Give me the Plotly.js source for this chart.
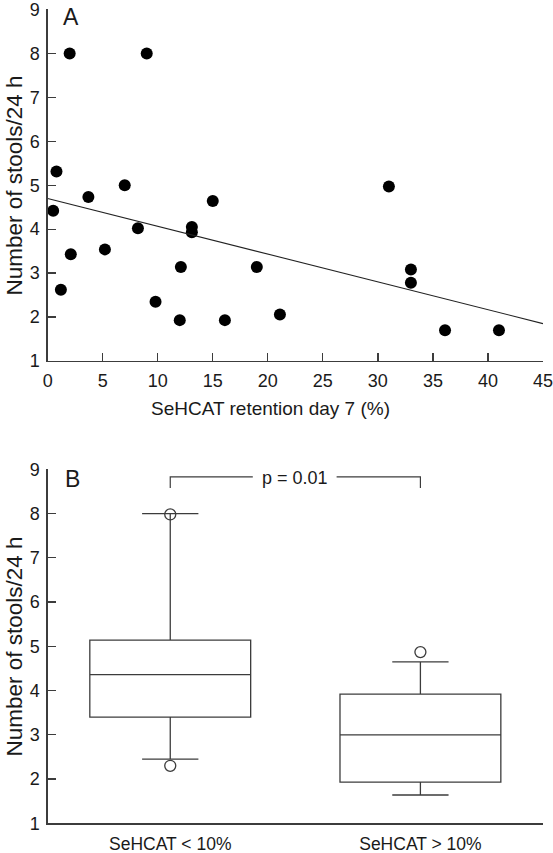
<!DOCTYPE html>
<html>
<head>
<meta charset="utf-8">
<script src="https://cdn.plot.ly/plotly-3.0.1.min.js"></script>
<style>
html,body{margin:0;padding:0;background:#fff;}
#chart{width:553px;height:853px;}
</style>
</head>
<body>
<div id="chart"></div>
<script>
// Panel A: SeHCAT retention day 7 (%) vs number of stools/24 h
var retention = [0.5, 0.8, 1.2, 2.0, 2.1, 3.7, 5.2, 7.0, 8.2, 9.0, 9.8, 12.0, 12.1, 13.1, 13.1, 15.0, 16.1, 19.0, 21.1, 31.0, 33.0, 33.0, 36.1, 41.0];
var stools    = [4.42, 5.31, 2.62, 8.0, 3.43, 4.73, 3.54, 5.0, 4.02, 8.0, 2.35, 1.93, 3.14, 4.05, 3.93, 4.64, 1.93, 3.14, 2.06, 4.97, 3.08, 2.78, 1.70, 1.70];
var fitX = [0, 45];
var fitY = [4.70, 1.85];

// Panel B: box plot summaries
var groups      = ["SeHCAT < 10%", "SeHCAT > 10%"];
var lowerFence  = [2.45, 1.64];
var q1          = [3.40, 1.93];
var median      = [4.36, 3.00];
var q3          = [5.14, 3.92];
var upperFence  = [8.00, 4.65];
var outlierX    = ["SeHCAT < 10%", "SeHCAT < 10%", "SeHCAT > 10%"];
var outlierY    = [7.98, 2.30, 4.87];
var pText       = "p = 0.01";

var yTicks = [1, 2, 3, 4, 5, 6, 7, 8, 9];
var xTicks = [0, 5, 10, 15, 20, 25, 30, 35, 40, 45];

var FONT = "Liberation Sans, Arial, Helvetica, sans-serif";
var TXT = "#1a1a1a";
var LN = "#3c3c3c";

var traces = [
  {
    x: retention, y: stools, type: "scatter", mode: "markers",
    marker: {color: "#000", size: 12}, cliponaxis: false,
    xaxis: "x", yaxis: "y", hoverinfo: "skip"
  },
  {
    x: fitX, y: fitY, type: "scatter", mode: "lines",
    line: {color: "#222", width: 1.1}, xaxis: "x", yaxis: "y", hoverinfo: "skip"
  },
  {
    type: "box", x: groups, q1: q1, median: median, q3: q3,
    lowerfence: lowerFence, upperfence: upperFence,
    boxpoints: false, width: 0.643, whiskerwidth: 0.35,
    fillcolor: "rgba(255,255,255,0)", line: {color: LN, width: 1.3},
    xaxis: "x2", yaxis: "y2", hoverinfo: "skip"
  },
  {
    x: outlierX, y: outlierY, type: "scatter", mode: "markers",
    marker: {symbol: "circle-open", size: 11, color: LN, line: {width: 1.3, color: LN}},
    cliponaxis: false, xaxis: "x2", yaxis: "y2", hoverinfo: "skip"
  }
];

var axBase = {
  showgrid: false, zeroline: false, showline: true, linecolor: LN, linewidth: 1.3,
  ticks: "inside", ticklen: 8, tickwidth: 1.3, tickcolor: LN, ticklabeloverflow: "allow",
  tickfont: {family: FONT, size: 18, color: TXT}, fixedrange: true
};

function merge(a, b){ var o = {}; for (var k in a) o[k] = a[k]; for (var k2 in b) o[k2] = b[k2]; return o; }

var layout = {
  width: 553, height: 853,
  margin: {l: 0, r: 0, t: 0, b: 0},
  paper_bgcolor: "#fff", plot_bgcolor: "#fff",
  showlegend: false,
  font: {family: FONT, color: TXT},
  xaxis: merge(axBase, {domain: [0.0862, 0.9819], range: [0, 45], tickvals: xTicks, ticktext: xTicks.map(String), anchor: "y", ticklabelstandoff: 3}),
  yaxis: merge(axBase, {domain: [0.5768, 0.9889], range: [1, 9], tickvals: yTicks, ticktext: yTicks.map(String), anchor: "x", ticklabelstandoff: 3}),
  xaxis2: merge(axBase, {domain: [0.0862, 0.9819], type: "category", categoryarray: groups, range: [-0.49, 1.49], ticks: "", anchor: "y2", ticklabelstandoff: 4, tickfont: {family: FONT, size: 17.5, color: TXT}}),
  yaxis2: merge(axBase, {domain: [0.0348, 0.4498], range: [1, 9], tickvals: yTicks, ticktext: yTicks.map(String), anchor: "x2", ticklabelstandoff: 3}),
  shapes: [
    {type: "path", xref: "x2", yref: "y2", path: "M 0,8.58 L 0,8.83 L 0.33,8.83", line: {color: LN, width: 1.2}},
    {type: "path", xref: "x2", yref: "y2", path: "M 0.665,8.83 L 1,8.83 L 1,8.58", line: {color: LN, width: 1.2}}
  ],
  annotations: [
    {text: "A", xref: "paper", yref: "paper", x: 71/553, y: 1 - 17/853, xanchor: "center", yanchor: "middle", showarrow: false, font: {family: FONT, size: 23, color: TXT}},
    {text: "B", xref: "paper", yref: "paper", x: 72/553, y: 1 - 479/853, xanchor: "center", yanchor: "middle", showarrow: false, font: {family: FONT, size: 23, color: TXT}},
    {text: "Number of stools/24 h", xref: "paper", yref: "paper", x: 13.5/553, y: 1 - 186/853, xanchor: "center", yanchor: "middle", textangle: -90, showarrow: false, font: {family: FONT, size: 22.5, color: TXT}},
    {text: "Number of stools/24 h", xref: "paper", yref: "paper", x: 13.5/553, y: 1 - 647/853, xanchor: "center", yanchor: "middle", textangle: -90, showarrow: false, font: {family: FONT, size: 22.5, color: TXT}},
    {text: "SeHCAT retention day 7 (%)", xref: "paper", yref: "paper", x: 270/553, y: 1 - 408/853, xanchor: "center", yanchor: "middle", showarrow: false, font: {family: FONT, size: 19, color: TXT}},
    {text: pText, xref: "paper", yref: "paper", x: 295/553, y: 1 - 478/853, xanchor: "center", yanchor: "middle", showarrow: false, font: {family: FONT, size: 18, color: TXT}}
  ]
};

Plotly.newPlot("chart", traces, layout, {staticPlot: true, displayModeBar: false});
</script>
</body>
</html>
